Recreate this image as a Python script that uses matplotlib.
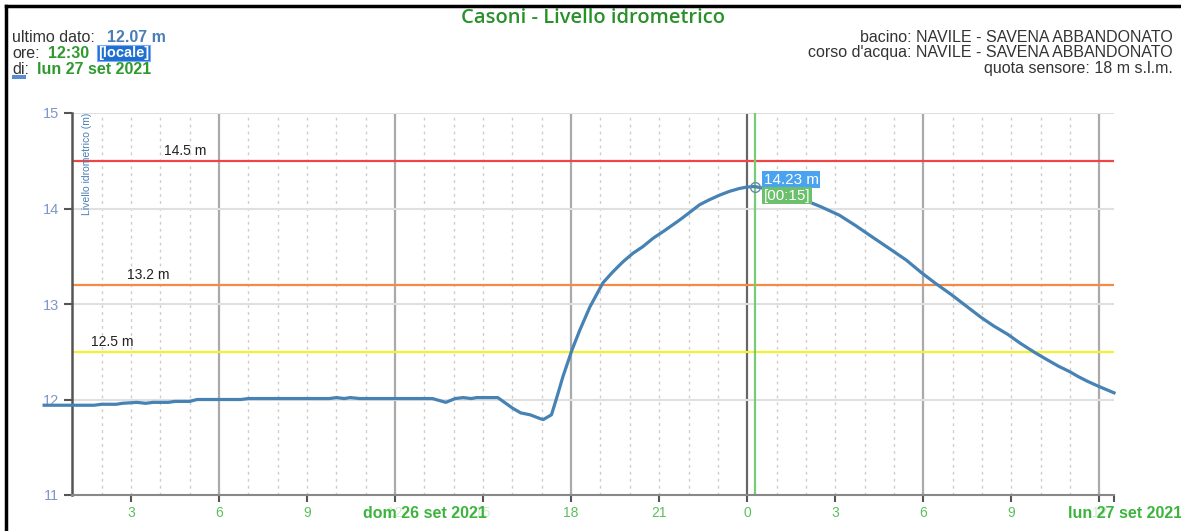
import matplotlib.pyplot as plt
import numpy as np
from matplotlib.lines import Line2D
from matplotlib.patches import Rectangle

# hours since dom 26 set 2021 00:00, level in m
hours = [0.04, 1.75, 2.0, 2.5, 2.7, 3.2, 3.5, 3.75, 4.27, 4.5, 5.0, 5.25, 6.75, 7.0,
         9.76, 10.0, 10.27, 10.47, 10.8, 13.27, 13.73, 14.05, 14.32, 14.6, 14.77,
         15.5, 16.0, 16.28, 16.6, 16.94, 17.05, 17.33, 17.52, 17.72, 18.03, 18.3,
         18.64, 19.08, 19.4, 19.76, 20.1, 20.44, 20.8, 21.19, 21.7, 22.0, 22.38,
         22.7, 23.06, 23.4, 23.74, 24.0, 24.25, 24.6, 25.1, 25.5, 26.02, 26.5,
         27.14, 27.7, 28.27, 28.8, 29.42, 29.93, 30.4, 30.95, 31.5, 31.97, 32.4,
         32.89, 33.3, 33.81, 34.2, 34.6, 35.0, 35.28, 35.6, 35.96, 36.5]
levels = [11.94, 11.94, 11.95, 11.95, 11.96, 11.97, 11.96, 11.97, 11.97, 11.98,
          11.98, 12.0, 12.0, 12.01, 12.01, 12.02, 12.01, 12.02, 12.01, 12.01,
          11.97, 12.01, 12.02, 12.01, 12.02, 12.02, 11.91, 11.86, 11.84, 11.80,
          11.79, 11.84, 12.03, 12.24, 12.52, 12.73, 12.97, 13.22, 13.33, 13.44,
          13.53, 13.60, 13.69, 13.77, 13.88, 13.95, 14.04, 14.09, 14.14, 14.18,
          14.21, 14.225, 14.23, 14.21, 14.17, 14.14, 14.08, 14.02, 13.93, 13.82,
          13.70, 13.59, 13.46, 13.33, 13.22, 13.10, 12.97, 12.86, 12.77, 12.68,
          12.59, 12.49, 12.42, 12.35, 12.29, 12.24, 12.19, 12.14, 12.07]

thresholds = [14.5, 13.2, 12.5]
threshold_colors = ["#f04545", "#f58a45", "#f2f230"]
threshold_label_x = [4.85, 3.6, 2.35]

tick_hours = list(range(3, 37, 3))
tick_labels = [str(h % 24) for h in tick_hours]
peak_hour = 24.25
peak_value = 14.23

W, H = 1181, 531
fig = plt.figure(figsize=(W / 100, H / 100), dpi=100)
plt.rcParams['font.family'] = ['Liberation Sans', 'DejaVu Sans']

ax = fig.add_axes([72.3 / W, 1 - 495 / H, (1114 - 72.3) / W, (495 - 113) / H])
ax.set_xlim(1.0, 36.5)
ax.set_ylim(11, 15)

# grid
for h in range(2, 37):
    if h % 6 == 0:
        continue
    ax.axvline(h, color="#cccccc", lw=1, ls=(0, (2, 3)), zorder=1)
for h in range(6, 37, 6):
    c = "#666666" if h == 24 else "#aaaaaa"
    ax.axvline(h, color=c, lw=1.6, zorder=1)
for v in [12, 13, 14, 15]:
    ax.axhline(v, color="#e0e0e0", lw=1.5, zorder=1)

for v, c, lx in zip(thresholds, threshold_colors, threshold_label_x):
    ax.axhline(v, color=c, lw=1.6, zorder=2)
    ax.text(lx, v + 0.03, f"{v} m", fontsize=10, color="#222222", ha="center", va="bottom")

ax.axvline(peak_hour, color="#77cc77", lw=1.6, zorder=2)

ax.plot(hours, levels, color="#4682b4", lw=2.3, zorder=4, clip_on=False,
        solid_joinstyle="round")
ax.plot([peak_hour], [peak_value], marker="o", ms=7, mfc="none", mec="#6a88aa", mew=1, zorder=5)

ax.annotate(f"{peak_value} m", (peak_hour, peak_value), xytext=(9, 7), textcoords="offset pixels",
            fontsize=11, color="white", va="center", ha="left",
            bbox=dict(boxstyle="square,pad=0.12", fc="#4aa3f0", ec="none"), zorder=6)
ax.annotate("[00:15]", (peak_hour, peak_value), xytext=(9, -9), textcoords="offset pixels",
            fontsize=11, color="white", va="center", ha="left",
            bbox=dict(boxstyle="square,pad=0.12", fc="#6cc06c", ec="none"), zorder=6)

# axes styling
for s in ["top", "right"]:
    ax.spines[s].set_visible(False)
ax.spines["left"].set_color("#555555")
ax.spines["left"].set_linewidth(1.8)
ax.spines["bottom"].set_color("#888888")
ax.spines["bottom"].set_linewidth(1.5)
ax.set_yticks([11, 12, 13, 14, 15])
ax.tick_params(axis="y", colors="#555555", labelcolor="#8096c8", labelsize=10.5, length=6, width=1.5)
ax.set_xticks(tick_hours + [36.5])
ax.set_xticklabels(tick_labels + [""])
ax.tick_params(axis="x", colors="#555555", labelcolor="#5cc05c", labelsize=10, length=5, width=1.5, pad=3)
for lbl, h in zip(ax.get_xticklabels(), tick_hours + [36.5]):
    if h in (12, 15, 36):
        lbl.set_alpha(0.3)

ax.text(0.009, 1.0, "Livello idrometrico (m)", transform=ax.transAxes, rotation=90,
        fontsize=7.5, color="#4a7eb5", ha="left", va="top")

# date labels under the axis
fig.text(425 / W, 1 - 514 / H, "dom 26 set 2021", fontsize=11.5, fontweight="bold",
         color="#3db43d", ha="center", va="center")
fig.text(1068 / W, 1 - 514 / H, "lun 27 set 2021", fontsize=11.5, fontweight="bold",
         color="#3db43d", ha="left", va="center")

# title and header info
fig.text(593 / W, 1 - 18 / H, "Casoni - Livello idrometrico", fontsize=14.5, color="#2a902a",
         ha="center", va="center", family="Open Sans", fontweight="semibold")

fs = 11.5
fig.text(12 / W, 1 - 37 / H, "ultimo dato:", fontsize=fs, color="#333333", va="center")
fig.text(107 / W, 1 - 37 / H, "12.07 m", fontsize=fs, color="#4a7eb5", fontweight="bold", va="center")
fig.text(12 / W, 1 - 53 / H, "ore:", fontsize=fs, color="#333333", va="center")
fig.text(48 / W, 1 - 53 / H, "12:30", fontsize=fs, color="#2e9a2e", fontweight="bold", va="center")
fig.text(98 / W, 1 - 53 / H, "[locale]", fontsize=10.5, color="white", fontweight="bold", va="center",
         bbox=dict(boxstyle="square,pad=0.05", fc="#1f6fd0", ec="#7fa8ff", lw=0.8))
fig.text(12 / W, 1 - 69 / H, "di:", fontsize=fs, color="#333333", va="center")
fig.text(37 / W, 1 - 69 / H, "lun 27 set 2021", fontsize=fs, color="#2e9a2e", fontweight="bold", va="center")
fig.patches.append(Rectangle((12 / W, 1 - 79 / H), 14 / W, 4 / H, transform=fig.transFigure,
                             fc="#5a8ad0", ec="none"))

fig.text(1173 / W, 1 - 37 / H, "bacino: NAVILE - SAVENA ABBANDONATO", fontsize=fs,
         color="#333333", ha="right", va="center")
fig.text(1173 / W, 1 - 53 / H, "corso d'acqua: NAVILE - SAVENA ABBANDONATO", fontsize=fs,
         color="#333333", ha="right", va="center")
fig.text(1173 / W, 1 - 69 / H, "quota sensore: 18 m s.l.m.", fontsize=fs,
         color="#333333", ha="right", va="center")

# page frame
fig.add_artist(Line2D([6 / W, 6 / W], [0, 1 - 6 / H], color="black", lw=2.5, transform=fig.transFigure))
fig.add_artist(Line2D([6 / W, 1], [1 - 6 / H, 1 - 6 / H], color="black", lw=2.5, transform=fig.transFigure))

fig.savefig("out.png", dpi=100)
